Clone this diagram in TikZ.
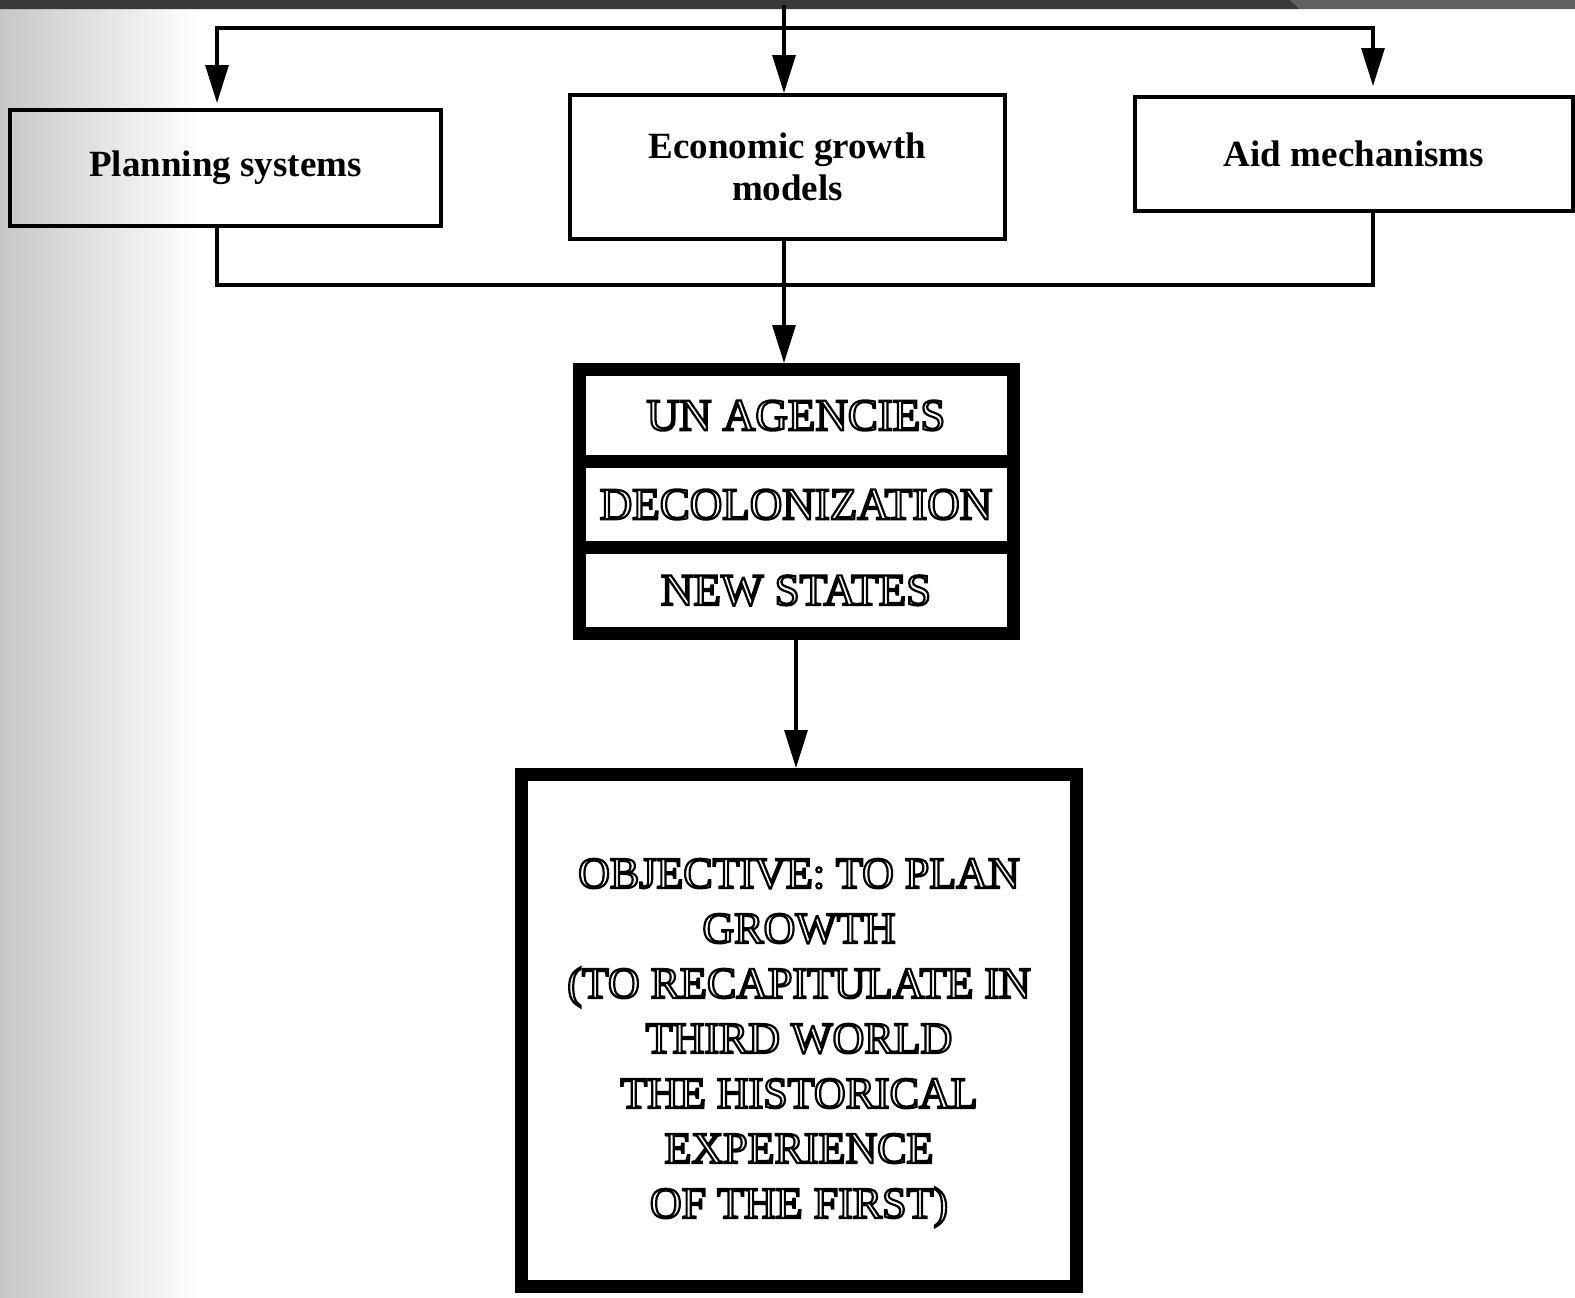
\documentclass[tikz,border=0pt]{standalone}
\usepackage{fontspec}
\setmainfont{Liberation Serif}
\usetikzlibrary{arrows.meta}
\newcommand{\outlon}{\special{pdf:literal direct 1 Tr 1.1 w}}
\newcommand{\outloff}{\special{pdf:literal direct 0 Tr}}
\tikzset{
  conn/.style={line width=1.6pt},
  arr/.style={conn,-{Triangle[length=19pt,width=11.5pt]}},
  tbox/.style={draw,line width=2pt,inner sep=0pt,align=center,
    font=\fontsize{18.5}{21}\selectfont\bfseries},
  cell/.style={draw,line width=6.5pt,inner sep=0pt,minimum width=217pt,
    font=\fontsize{22.5}{27.5}\selectfont},
  bigbox/.style={draw,line width=6.5pt,inner sep=0pt},
  bigtext/.style={inner sep=0pt,align=center,font=\fontsize{22}{27.5}\selectfont}
}
\begin{document}
\begin{tikzpicture}[x=0.5pt,y=-0.5pt]
\useasboundingbox (0,0) rectangle (1575,1297);
% scan background
\fill[white] (0,0) rectangle (1575,1297);
\shade[left color=black!22,right color=white] (0,0) rectangle (200,1297);
\fill[black!78] (0,0) -- (1290,0) -- (1300,9) -- (0,9) -- cycle;
\fill[black!62] (1290,0) -- (1575,0) -- (1575,9) -- (1300,9) -- cycle;

% top boxes
\node[tbox,minimum width=215.5pt,minimum height=58pt] (plan) at (225.5,168) {Planning systems};
\node[tbox,minimum width=217.5pt,minimum height=72pt] (econ) at (787.5,167) {Economic growth\\models};
\node[tbox,minimum width=219pt,minimum height=57pt] (aid) at (1354,154) {Aid mechanisms};

% stacked box
\node[cell,minimum height=46pt] (un) at (796,415.5) {\outlon UN AGENCIES\outloff};
\node[cell,minimum height=43pt] (decol) at (796,504.5) {\outlon DECOLONIZATION\outloff};
\node[cell,minimum height=43pt] (news) at (796,590.5) {\outlon NEW STATES\outloff};

% objective box
\node[bigbox,minimum width=277.5pt,minimum height=256pt] (obj) at (799,1030.5) {};
\node[bigtext] (objtxt) at (799,1043)
  {\outlon OBJECTIVE: TO PLAN\\GROWTH\\(TO RECAPITULATE IN\\THIRD WORLD\\THE HISTORICAL\\EXPERIENCE\\OF THE FIRST)\outloff};

% connectors
\coordinate (src) at (784,5);
\coordinate (split) at (784,28);
\coordinate (join) at (784,285);
\draw[conn] (src) -- (split);
\draw[arr] (split) -- (split |- econ.north);
\draw[arr] (split) -| ([xshift=-4.25pt,yshift=2.5pt]plan.north);
\draw[arr] (split) -| ([xshift=9.5pt,yshift=4.5pt]aid.north);
\draw[conn] ([xshift=-4.25pt]plan.south) |- (join) -| ([xshift=9.5pt]aid.south);
\draw[conn] (join |- econ.south) -- (join);
\draw[arr] (join) -- (join |- un.north);
\draw[arr] (news.south) -- (news.south |- obj.north);
\end{tikzpicture}
\end{document}
